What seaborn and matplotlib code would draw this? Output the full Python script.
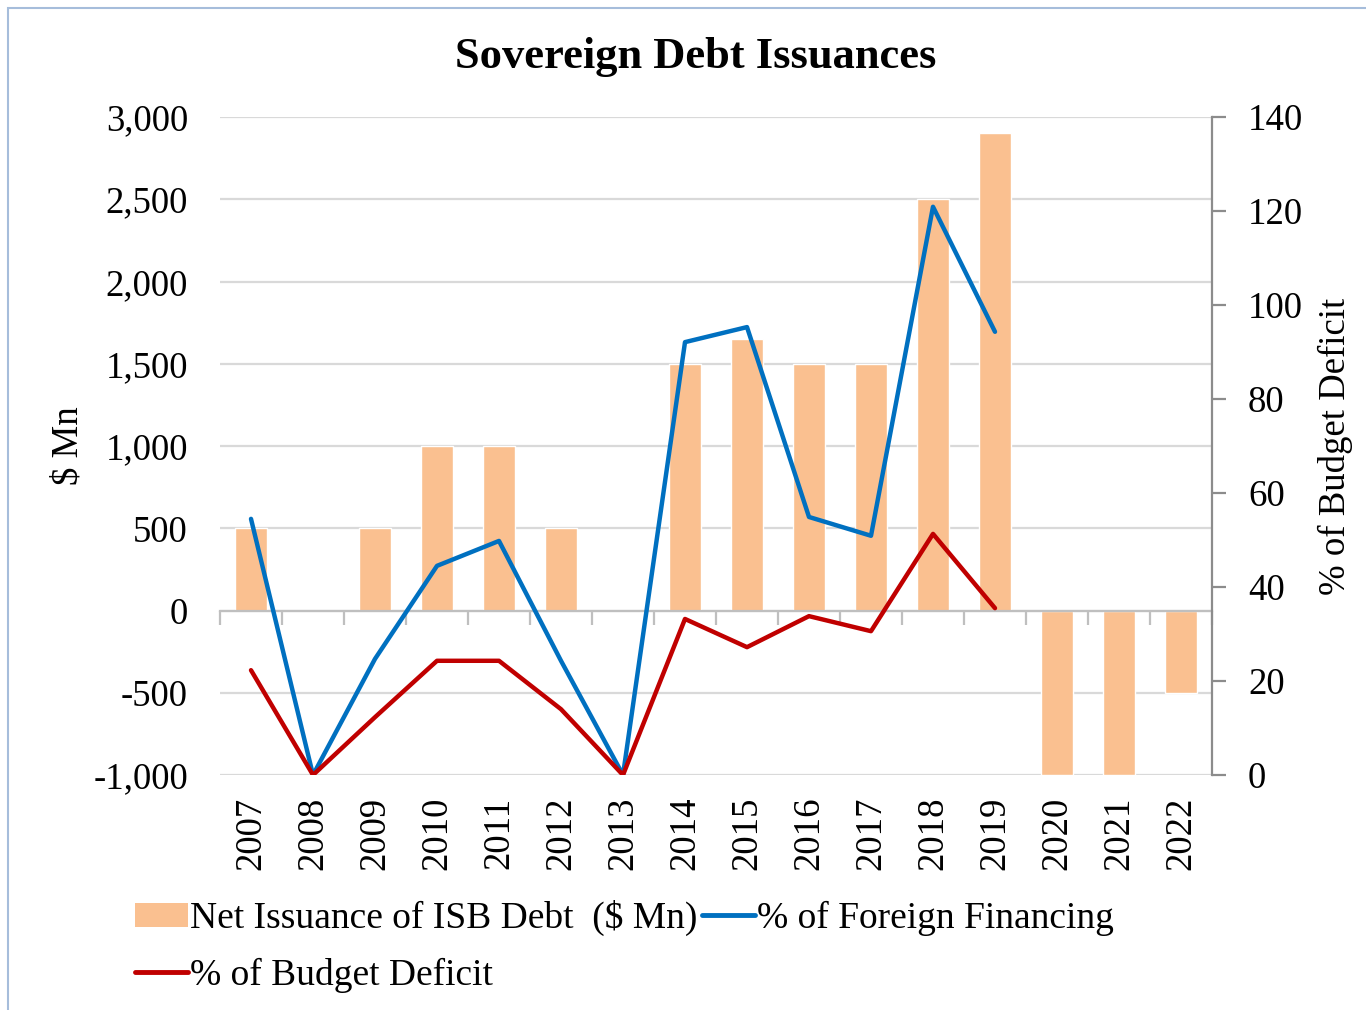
import matplotlib
matplotlib.use("Agg")
import matplotlib.pyplot as plt
import matplotlib.patches as mpatches
from matplotlib.lines import Line2D
from matplotlib.ticker import FuncFormatter, FixedLocator
import numpy as np
import pandas as pd
import seaborn as sns

# ---- data ----
years = ["2007", "2008", "2009", "2010", "2011", "2012", "2013", "2014",
         "2015", "2016", "2017", "2018", "2019", "2020", "2021", "2022"]
net_issuance = [500, 0, 500, 1000, 1000, 500, 0, 1500,
                1650, 1500, 1500, 2500, 2900, -1000, -1000, -500]
foreign_financing_pct = [54.5, 0, 24.7, 44.5, 49.8, 24.3, 0, 92.1,
                         95.3, 54.9, 50.9, 120.9, 94.3, np.nan, np.nan, np.nan]
budget_deficit_pct = [22.3, 0, 12.3, 24.3, 24.3, 14.0, 0, 33.2,
                      27.2, 33.8, 30.6, 51.3, 35.5, np.nan, np.nan, np.nan]
left_ticks = [-1000, -500, 0, 500, 1000, 1500, 2000, 2500, 3000]
right_ticks = [0, 20, 40, 60, 80, 100, 120, 140]

bar_label = "Net Issuance of ISB Debt  ($ Mn)"
blue_label = "% of Foreign Financing"
red_label = "% of Budget Deficit"

BAR_C = "#FAC090"
BLUE = "#0070C0"
RED = "#C00000"
GRID_C = "#D9D9D9"
AXIS_C = "#BFBFBF"

df = pd.DataFrame({
    "year": years,
    "pos": np.arange(len(years)),
    "issuance": net_issuance,
    "foreign": foreign_financing_pct,
    "deficit": budget_deficit_pct,
})

sns.set_theme(style="white")
plt.rcParams["font.family"] = ["Liberation Serif", "DejaVu Serif"]
plt.rcParams["text.color"] = "black"
FS = 26.5

fig = plt.figure(figsize=(13.66, 10.10), dpi=100)
ax = fig.add_axes([220 / 1366, 1 - 775 / 1010, (1212 - 220) / 1366, (775 - 117) / 1010])

# bars on the left ($ Mn) axis
sns.barplot(data=df, x="year", y="issuance", color=BAR_C, saturation=1,
            width=0.52, ax=ax, zorder=2)
ax.set_xlim(-0.5, len(years) - 0.5)
ax.set_ylim(left_ticks[0], left_ticks[-1])
ax.set_yticks(left_ticks)
ax.yaxis.set_major_formatter(FuncFormatter(lambda v, p: f"{v:,.0f}"))
ax.grid(axis="y", color=GRID_C, linewidth=1.6, zorder=0)
ax.grid(axis="x", visible=False)
ax.set_axisbelow(True)
for s in ("left", "top", "right"):
    ax.spines[s].set_visible(False)
ax.spines["bottom"].set_position(("data", 0))
ax.spines["bottom"].set_color(AXIS_C)
ax.spines["bottom"].set_linewidth(1.6)
ax.spines["bottom"].set_zorder(3)
ax.xaxis.set_minor_locator(FixedLocator(np.arange(-0.5, len(years), 1.0)))
ax.tick_params(axis="x", which="minor", bottom=True, length=10, width=1.6,
               color=AXIS_C, direction="out")
ax.tick_params(axis="x", which="major", length=0, pad=134,
               labelsize=FS, labelrotation=90, labelcolor="black")
ax.tick_params(axis="y", length=0, pad=23, labelsize=FS, labelcolor="black")
ax.set_xlabel("")
ax.set_ylabel("$ Mn", fontsize=FS, color="black")
ax.yaxis.set_label_coords((85 - 220) / 992, 0.5)

# lines on the right (%) axis
ax2 = ax.twinx()
sns.lineplot(data=df, x="pos", y="foreign", color=BLUE, linewidth=3.2,
             ax=ax2, zorder=4)
sns.lineplot(data=df, x="pos", y="deficit", color=RED, linewidth=3.2,
             ax=ax2, zorder=4)
ax2.set_xlim(-0.5, len(years) - 0.5)
ax2.set_ylim(right_ticks[0], right_ticks[-1])
ax2.set_yticks(right_ticks)
ax2.grid(False)
for s in ("left", "top", "bottom"):
    ax2.spines[s].set_visible(False)
ax2.spines["right"].set_color("#8C8C8C")
ax2.spines["right"].set_linewidth(1.6)
ax2.tick_params(axis="y", right=True, length=10, width=1.6, color="#8C8C8C",
                direction="out", pad=16, labelsize=FS, labelcolor="black")
ax2.set_xlabel("")
ax2.set_ylabel("% of Budget Deficit", fontsize=FS, color="black")
ax2.yaxis.set_label_coords((1318 - 220) / 992, 0.5)

# title
fig.text(696 / 1366, 1 - 57 / 1010, "Sovereign Debt Issuances", ha="center",
         va="center", fontsize=32, fontweight="bold", color="black")

# legend below the plot
handles = [
    mpatches.Patch(facecolor=BAR_C, edgecolor="none", label=bar_label),
    Line2D([], [], color=RED, linewidth=3.5, label=red_label),
    Line2D([], [], color=BLUE, linewidth=3.5, label=blue_label),
]
fig.legend(handles=handles, loc="upper left",
           bbox_to_anchor=(120 / 1366, 1 - 885 / 1010), ncol=2, frameon=False,
           fontsize=27, labelcolor="black", handlelength=1.42, handleheight=0.6,
           handletextpad=0.05, columnspacing=0.12, labelspacing=0.58,
           borderaxespad=0)

# outer chart border
fig.patches.append(mpatches.Rectangle((8 / 1366, -0.02), 1.03, 1 - 8 / 1010 + 0.02,
                                      transform=fig.transFigure, fill=False,
                                      edgecolor="#A6BDDB", linewidth=1.5))

fig.savefig("out.png", dpi=100)
